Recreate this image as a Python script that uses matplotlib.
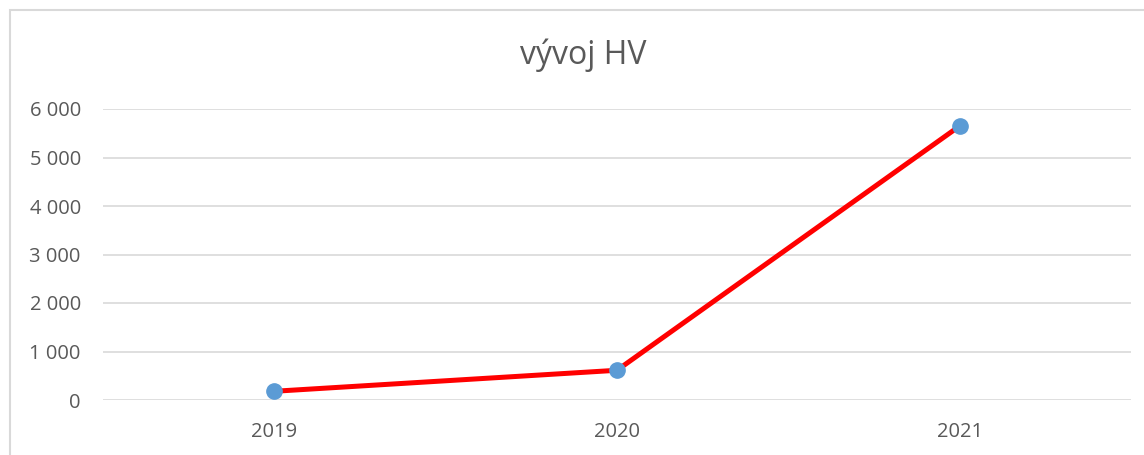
import matplotlib
matplotlib.use("Agg")
import matplotlib.pyplot as plt
from matplotlib.patches import Rectangle
from matplotlib.ticker import FuncFormatter

years = ["2019", "2020", "2021"]
values = [180, 613, 5650]
yticks = [0, 1000, 2000, 3000, 4000, 5000, 6000]

W, H = 1144, 455
fig = plt.figure(figsize=(W / 100, H / 100), dpi=100)
plt.rcParams['font.family'] = ['Open Sans', 'DejaVu Sans']

ax = fig.add_axes([103 / W, 1 - 400 / H, (1131 - 103) / W, (400 - 109) / H])
x = list(range(len(years)))
ax.plot(x, values, color='#FF0000', linewidth=3.6, solid_capstyle='round', zorder=3)
ax.plot(x, values, linestyle='none', marker='o', markersize=11,
        markerfacecolor='#5B9BD5', markeredgecolor='#5B9BD5', zorder=4)

ax.set_xlim(-0.5, 2.5)
ax.set_ylim(0, 6000)
ax.set_xticks(x)
ax.set_xticklabels(years)
ax.set_yticks(yticks)
ax.yaxis.set_major_formatter(FuncFormatter(lambda v, p: f"{int(v):,}".replace(",", " ")))
for s in ax.spines.values():
    s.set_visible(False)
ax.grid(axis='y', color='#D9D9D9', linewidth=1.2)
ax.set_axisbelow(True)
ax.tick_params(axis='both', length=0, labelsize=14.5, colors='#595959')
ax.tick_params(axis='y', pad=16)
ax.tick_params(axis='x', pad=16)

fig.text(583 / W, 1 - 55 / H, "vývoj HV", ha='center', va='center',
         fontsize=23, color='#595959')

fig.patches.append(Rectangle((10 / W, -0.2), 1.2, 1.2 - 10 / H + 0.0,
                             transform=fig.transFigure, fill=False,
                             edgecolor='#D9D9D9', linewidth=1.5))

fig.savefig("out.png", dpi=100)
